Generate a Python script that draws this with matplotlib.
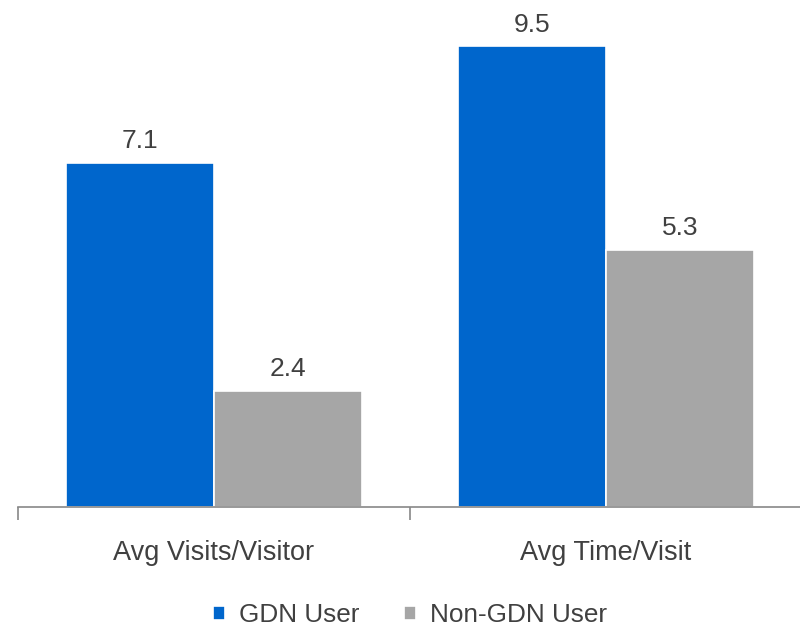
import matplotlib.pyplot as plt
import numpy as np

plt.rcParams['font.family'] = ['Liberation Sans', 'DejaVu Sans']

categories = ['Avg Visits/Visitor', 'Avg Time/Visit']
gdn_user = [7.1, 9.5]
non_gdn_user = [2.4, 5.3]
series_names = ['GDN User', 'Non-GDN User']
colors = ['#0066CC', '#A6A6A6']
text_color = '#404040'

fig = plt.figure(figsize=(8, 6.28), dpi=100)
ax = fig.add_axes([0.0225, 0.1927, 0.98, 0.772])

x = np.arange(len(categories))
w = 0.377
for i, (vals, name, c) in enumerate(zip([gdn_user, non_gdn_user], series_names, colors)):
    pos = x + (i - 0.5) * w
    ax.bar(pos, vals, width=w, color=c, edgecolor='white', linewidth=1.2, label=name)
    for px, v in zip(pos, vals):
        ax.annotate(f'{v:.1f}', (px, v), xytext=(0, 7), textcoords='offset points',
                    ha='center', va='bottom', fontsize=19, color=text_color)

ax.set_xlim(-0.5, 1.5)
ax.set_ylim(0, 10)
ax.set_yticks([])
for s in ['left', 'right', 'top']:
    ax.spines[s].set_visible(False)
ax.spines['bottom'].set_color('#888888')
ax.spines['bottom'].set_linewidth(1.2)

# ticks sit on category boundaries, labels centred under each group
ax.set_xticks([-0.5, 0.5, 1.5])
ax.set_xticklabels([])
ax.tick_params(axis='x', length=9, width=1.2, color='#888888')
for px, lab in zip(x, categories):
    ax.annotate(lab, (px, 0), xytext=(0, -46), textcoords='offset pixels',
                ha='center', va='center', fontsize=19.5, color=text_color,
                annotation_clip=False)

leg = fig.legend(loc='center', bbox_to_anchor=(0.5125, 0.02), ncol=2, frameon=False,
                 fontsize=18.8, handlelength=0.45, handleheight=0.45,
                 handletextpad=0.55, columnspacing=1.7)
for t in leg.get_texts():
    t.set_color(text_color)

fig.savefig('out.png', dpi=100)
